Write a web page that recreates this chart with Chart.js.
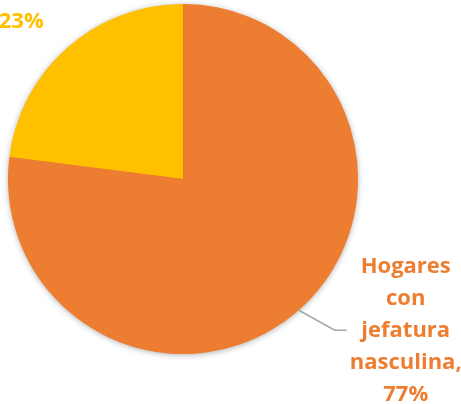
<!DOCTYPE html>
<html>
<head>
<meta charset="utf-8">
<script src="https://cdn.jsdelivr.net/npm/chart.js@4/dist/chart.umd.min.js"></script>
<style>
html,body{margin:0;padding:0;background:#fff;}
canvas{display:block;}
</style>
</head>
<body>
<canvas id="c" width="461" height="404"></canvas>
<script>
const categories = ["Hogares con jefatura femenina", "Hogares con jefatura nasculina"];
const labelLines = [["Hogares", "con", "jefatura", "femenina,"], ["Hogares", "con", "jefatura", "nasculina,"]];
const values = [23, 77];
const colors = ["#FFC000", "#ED7D31"];

const shadowPlugin = {
  id: 'shadow',
  beforeDatasetsDraw(chart) {
    const ctx = chart.ctx;
    const arc = chart.getDatasetMeta(0).data[0];
    if (!arc) return;
    ctx.save();
    ctx.shadowColor = 'rgba(0,0,0,0.35)';
    ctx.shadowBlur = 6;
    ctx.shadowOffsetX = 0;
    ctx.shadowOffsetY = 1;
    ctx.fillStyle = colors[1];
    ctx.beginPath();
    ctx.arc(arc.x, arc.y, arc.outerRadius - 0.5, 0, Math.PI * 2);
    ctx.fill();
    ctx.restore();
  }
};

const labelPlugin = {
  id: 'pieLabels',
  afterDraw(chart) {
    const ctx = chart.ctx;
    const meta = chart.getDatasetMeta(0);
    const total = values.reduce((a, b) => a + b, 0);
    ctx.save();
    ctx.font = 'bold 22px "Open Sans"';
    ctx.textAlign = 'center';
    ctx.textBaseline = 'middle';
    const lh = 32;
    meta.data.forEach((arc, i) => {
      const mid = (arc.startAngle + arc.endAngle) / 2;
      const sx = arc.x + Math.cos(mid) * arc.outerRadius;
      const sy = arc.y + Math.sin(mid) * arc.outerRadius;
      const pct = Math.round(values[i] / total * 100) + '%';
      const lines = labelLines[i].concat([pct]);
      ctx.fillStyle = colors[i];
      if (Math.cos(mid) > 0) {
        const ex = sx + 36, ey = sy + 20;
        ctx.strokeStyle = '#A6A6A6';
        ctx.lineWidth = 1.5;
        ctx.beginPath();
        ctx.moveTo(sx, sy);
        ctx.lineTo(ex, ey);
        ctx.lineTo(ex + 12, ey);
        ctx.stroke();
        const lx = ex + 71;
        const midIdx = 2;
        lines.forEach((t, k) => ctx.fillText(t, lx, ey + (k - midIdx) * lh));
      } else {
        const lx = sx - 46, ly = sy - 26;
        const n = lines.length;
        lines.forEach((t, k) => ctx.fillText(t, lx, ly - (n - 1 - k) * lh));
      }
    });
    ctx.restore();
  }
};

new Chart(document.getElementById('c'), {
  type: 'pie',
  data: {
    labels: categories,
    datasets: [{
      data: values,
      backgroundColor: colors,
      borderColor: colors,
      borderWidth: 0,
      hoverOffset: 0
    }]
  },
  options: {
    responsive: false,
    animation: false,
    rotation: -360 * values[0] / values.reduce((a, b) => a + b, 0),
    layout: { padding: { left: 8, top: 4, right: 103, bottom: 50 } },
    plugins: { legend: { display: false }, tooltip: { enabled: false } }
  },
  plugins: [shadowPlugin, labelPlugin]
});
</script>
</body>
</html>
